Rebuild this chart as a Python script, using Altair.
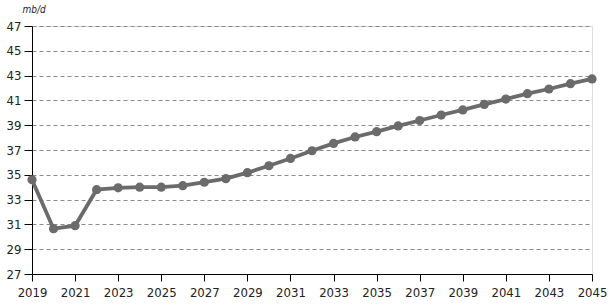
import altair as alt
import pandas as pd

years = list(range(2019, 2046))
values = [34.6, 30.65, 30.9, 33.8, 33.95, 34.0, 34.0, 34.12, 34.4, 34.69, 35.17,
          35.73, 36.32, 36.94, 37.53, 38.05, 38.48, 38.94, 39.38, 39.82, 40.23,
          40.68, 41.11, 41.54, 41.92, 42.35, 42.73]
x_ticks = list(range(2019, 2046, 2))
y_ticks = list(range(27, 48, 2))
unit_label = "mb/d"

df = pd.DataFrame({"year": years, "value": values})

FONT = "DejaVu Sans Condensed"
COLOR = "#6b6b6b"

x = alt.X("year:Q", scale=alt.Scale(domain=[2019, 2045], nice=False, zero=False),
          axis=alt.Axis(values=x_ticks, tickCount=50, format="d", title=None, grid=False,
                        domainColor="black", tickColor="black", tickSize=7,
                        labelFontSize=13, labelColor="#222", labelFont=FONT,
                        labelPadding=5, labelFlush=False, labelOverlap=False))
y = alt.Y("value:Q", scale=alt.Scale(domain=[27, 47], nice=False, zero=False),
          axis=alt.Axis(values=y_ticks, tickCount=50, format="d", title=unit_label,
                        titleAngle=0, titleX=-10, titleY=-12, titleAlign="left",
                        titleFont=FONT, titleFontSize=10, titleFontStyle="italic",
                        titleFontWeight="normal", titleColor="#222",
                        grid=True, gridColor="#8a8a8a", gridDash=[4, 3], gridWidth=1,
                        domainColor="black", tickColor="black", tickSize=8,
                        labelFontSize=13, labelColor="#222", labelFont=FONT,
                        labelPadding=3, labelOverlap=False))

line = alt.Chart(df).mark_line(color=COLOR, strokeWidth=3.8).encode(x=x, y=y)
pts = alt.Chart(df).mark_circle(color=COLOR, size=85, opacity=1).encode(x="year:Q", y="value:Q")

chart = (line + pts).properties(
    width=560, height=248,
    autosize=alt.AutoSizeParams(type="none"),
    padding={"left": 32, "top": 26, "right": 19, "bottom": 31},
).configure_view(stroke="black", strokeWidth=1.5).configure(background="white")

chart.save("out.html", embed_options={"renderer": "svg", "actions": False})
